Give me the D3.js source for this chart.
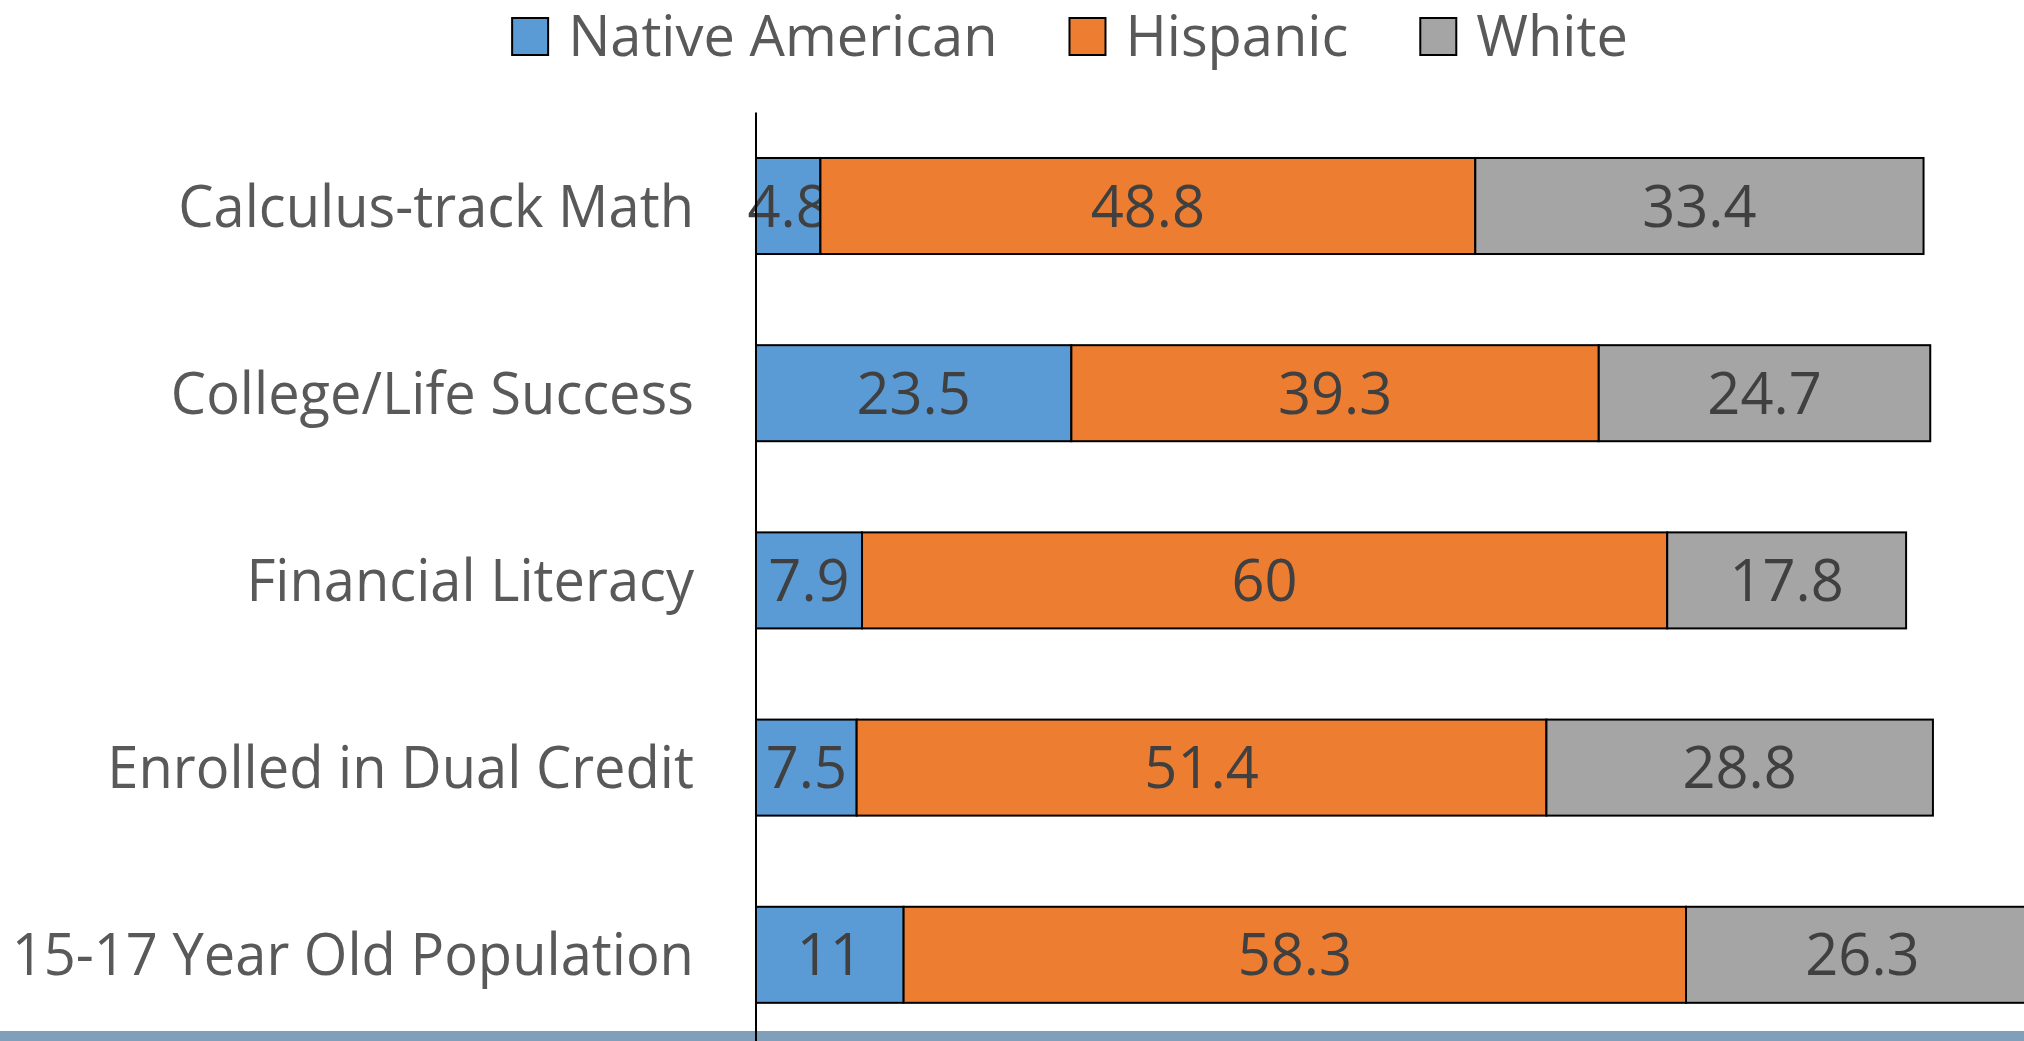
<!DOCTYPE html>
<html>
<head>
<meta charset="utf-8">
<script src="https://cdn.jsdelivr.net/npm/d3@7"></script>
<style>
  html, body { margin: 0; padding: 0; background: #fff; overflow: hidden; }
  svg { display: block; }
</style>
</head>
<body>
<div id="chart"></div>
<script>
// data
const categories = [
  "Calculus-track Math",
  "College/Life Success",
  "Financial Literacy",
  "Enrolled in Dual Credit",
  "15-17 Year Old Population"
];
const seriesNames = ["Native American", "Hispanic", "White"];
const nativeAmerican = [4.8, 23.5, 7.9, 7.5, 11];
const hispanic = [48.8, 39.3, 60, 51.4, 58.3];
const white = [33.4, 24.7, 17.8, 28.8, 26.3];
const colors = ["#5B9BD5", "#ED7D31", "#A5A5A5"];

const width = 2024, height = 1041;
const FONT = "'Open Sans', 'Noto Sans', sans-serif";

const svg = d3.select("#chart").append("svg")
    .attr("width", width)
    .attr("height", height);

// table for stacking
const table = categories.map((c, i) => ({
  category: c,
  "Native American": nativeAmerican[i],
  "Hispanic": hispanic[i],
  "White": white[i]
}));
const stacked = d3.stack().keys(seriesNames)(table);

// scales
const x = d3.scaleLinear().domain([0, 100]).range([756, 2098]);
const y = d3.scaleBand()
    .domain(categories)
    .range([112.4, 1048.4])
    .paddingInner(0.487)
    .paddingOuter(0.2435);
const color = d3.scaleOrdinal().domain(seriesNames).range(colors);

// bars
const layers = svg.append("g")
  .selectAll("g")
  .data(stacked)
  .join("g")
    .attr("fill", d => color(d.key));

layers.selectAll("rect")
  .data(d => d)
  .join("rect")
    .attr("x", d => x(d[0]))
    .attr("y", d => y(d.data.category))
    .attr("width", d => x(d[1]) - x(d[0]))
    .attr("height", y.bandwidth())
    .attr("stroke", "#000")
    .attr("stroke-width", 2);

// value labels
layers.selectAll("text")
  .data(d => d.map(v => Object.assign(v, {key: d.key})))
  .join("text")
    .attr("transform", d => `translate(${(x(d[0]) + x(d[1])) / 2},${y(d.data.category) + y.bandwidth() / 2}) scale(0.98,1)`)
    .attr("text-anchor", "middle")
    .attr("dy", "0.35em")
    .style("font-family", FONT)
    .style("font-size", "59px")
    .style("fill", "#404040")
    .text(d => d.data[d.key]);

// bottom strip
svg.append("rect")
    .attr("x", 0)
    .attr("y", 1031)
    .attr("width", width)
    .attr("height", 10)
    .attr("fill", "#7F9FBA");

// vertical axis line
svg.append("line")
    .attr("x1", x(0)).attr("x2", x(0))
    .attr("y1", y.range()[0]).attr("y2", height)
    .attr("stroke", "#000")
    .attr("stroke-width", 2);

// category labels
svg.append("g")
  .selectAll("text")
  .data(categories)
  .join("text")
    .attr("transform", d => `translate(${x(0) - 62},${y(d) + y.bandwidth() / 2}) scale(0.95,1)`)
    .attr("text-anchor", "end")
    .attr("dy", "0.35em")
    .style("font-family", FONT)
    .style("font-size", "59px")
    .style("fill", "#595959")
    .text(d => d);

// legend
const legend = svg.append("g");
const items = legend.selectAll("g")
  .data(seriesNames)
  .join("g");
items.append("rect")
    .attr("x", 0)
    .attr("y", 18)
    .attr("width", 36)
    .attr("height", 37)
    .attr("fill", d => color(d))
    .attr("stroke", "#000")
    .attr("stroke-width", 2);
items.append("text")
    .attr("x", 56)
    .attr("y", 56)
    .style("font-family", FONT)
    .style("font-size", "56px")
    .style("fill", "#595959")
    .text(d => d);

const widths = [];
items.each(function() {
  widths.push(56 + d3.select(this).select("text").node().getComputedTextLength());
});
const gap = 72;
const total = d3.sum(widths) + gap * (widths.length - 1);
let start = 1070 - total / 2;
items.attr("transform", (d, i) => {
  const t = `translate(${start},0)`;
  start += widths[i] + gap;
  return t;
});
</script>
</body>
</html>
